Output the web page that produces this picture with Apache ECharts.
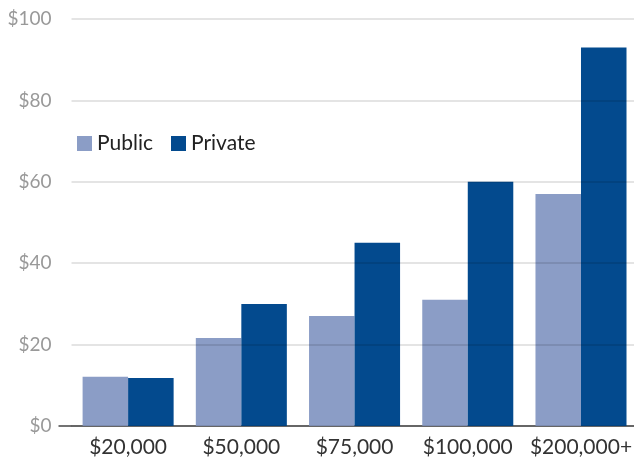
<!DOCTYPE html>
<html><head><meta charset="utf-8">
<script src="https://cdn.jsdelivr.net/npm/echarts@6/dist/echarts.min.js"></script>
<style>html,body{margin:0;padding:0;background:#fff}#c{width:634px;height:460px}</style>
</head><body><div id="c"></div>
<script>
const categories = ['$20,000', '$50,000', '$75,000', '$100,000', '$200,000+'];
const publicValues = [12.1, 21.6, 27, 31, 57];
const privateValues = [11.8, 30, 45, 60, 93];
const seriesNames = ['Public', 'Private'];
const yTicks = {min: 0, max: 100, interval: 20};

const FONT = 'Lato';
const chart = echarts.init(document.getElementById('c'), null, {renderer: 'canvas'});
chart.setOption({
  animation: false,
  textStyle: {fontFamily: FONT},
  color: ['#8b9dc6', '#034a8e'],
  legend: {
    left: 72, top: 128,
    itemWidth: 15, itemHeight: 15, itemGap: 18,
    icon: 'rect',
    textStyle: {fontSize: 21, color: '#222', fontFamily: FONT},
    data: seriesNames
  },
  grid: {left: 71.5, right: -3.6, top: 19, bottom: 34, containLabel: false, outerBoundsMode: 'none'},
  xAxis: {
    type: 'category', data: categories,
    axisTick: {show: false},
    axisLine: {lineStyle: {color: '#444', width: 1.5}},
    axisLabel: {fontSize: 21, color: '#333', margin: 11, interval: 0, fontFamily: FONT}
  },
  yAxis: {
    type: 'value', min: yTicks.min, max: yTicks.max, interval: yTicks.interval,
    z: 5,
    axisLine: {show: false}, axisTick: {show: false},
    splitLine: {lineStyle: {color: 'rgba(0,0,0,0.14)', width: 1.5}},
    axisLabel: {fontSize: 19, color: '#999', margin: 20, fontFamily: FONT,
      formatter: v => '$' + v}
  },
  series: [
    {name: seriesNames[0], type: 'bar', data: publicValues, barGap: '0%', barCategoryGap: '19.6%'},
    {name: seriesNames[1], type: 'bar', data: privateValues, barGap: '0%', barCategoryGap: '19.6%'}
  ]
});
const y0 = chart.convertToPixel({yAxisIndex: 0}, 0);
const xl = chart.convertToPixel({xAxisIndex: 0}, 0) - (chart.convertToPixel({xAxisIndex: 0}, 1) - chart.convertToPixel({xAxisIndex: 0}, 0)) / 2;
chart.setOption({graphic: [{type: 'line', shape: {x1: xl - 13, y1: y0, x2: xl, y2: y0}, style: {stroke: '#444', lineWidth: 1.5}}]});
</script></body></html>
